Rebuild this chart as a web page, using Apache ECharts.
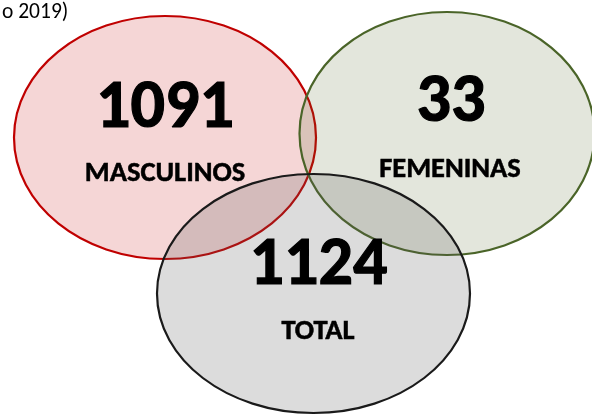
<!DOCTYPE html>
<html>
<head>
<meta charset="utf-8">
<script src="https://cdn.jsdelivr.net/npm/echarts@6/dist/echarts.min.js"></script>
<style>
  html, body { margin: 0; padding: 0; background: #ffffff; }
  #chart { width: 592px; height: 415px; }
</style>
</head>
<body>
<div id="chart"></div>
<script>
// ---- data ----
const categories = ['MASCULINOS', 'FEMENINAS', 'TOTAL'];
const values = [1091, 33, 1124];
const titleText = 'o 2019)';

// ---- layout (page-pixel space used by the hidden axes) ----
const layout = [
  { cx: 165,   cy: 137.5, rx: 151,   ry: 121.5, numDx: 0, numDy: -28, labDx: 0,   labDy: 36 },
  { cx: 447,   cy: 133.5, rx: 147.5, ry: 121.5, numDx: 4, numDy: -30, labDx: 3,   labDy: 36 },
  { cx: 313.5, cy: 293.5, rx: 156.5, ry: 119.5, numDx: 5, numDy: -27, labDx: 4.5, labDy: 38 }
];
const fills = ['rgba(192,0,0,0.16)', 'rgba(79,98,40,0.16)', 'rgba(91,91,91,0.21)'];
const strokes = ['#C00000', '#4A6428', '#1A1A1A'];
const FONT = 'Carlito, Calibri, Lato, sans-serif';

const chart = echarts.init(document.getElementById('chart'), null, { renderer: 'canvas' });

const seriesData = categories.map((c, i) => ({ name: c, value: [layout[i].cx, layout[i].cy, values[i]] }));

chart.setOption({
  animation: false,
  backgroundColor: '#ffffff',
  title: {
    text: titleText,
    left: -3, top: -3,
    textStyle: { fontFamily: FONT, fontWeight: 'normal', fontSize: 21.5, color: '#000' }
  },
  grid: { left: 0, right: 0, top: 0, bottom: 0 },
  xAxis: { type: 'value', min: 0, max: 592, show: false },
  yAxis: { type: 'value', min: 0, max: 415, inverse: true, show: false },
  series: [{
    type: 'custom',
    coordinateSystem: 'cartesian2d',
    data: seriesData,
    renderItem: function (params, api) {
      const i = params.dataIndex;
      const L = layout[i];
      const c = api.coord([api.value(0), api.value(1)]);
      const r = api.size([L.rx, L.ry]);
      const top = api.coord([L.cx + L.numDx, L.cy + L.numDy]);
      const lab = api.coord([L.cx + L.labDx, L.cy + L.labDy]);
      return {
        type: 'group',
        children: [
          {
            type: 'ellipse',
            shape: { cx: c[0], cy: c[1], rx: r[0], ry: r[1] },
            style: { fill: fills[i], stroke: strokes[i], lineWidth: 2.2 }
          },
          {
            type: 'text',
            z2: 10,
            style: {
              x: top[0], y: top[1],
              text: String(api.value(2)),
              align: 'center', verticalAlign: 'middle',
              font: 'bold 68px ' + FONT,
              fill: '#000',
              stroke: '#000', lineWidth: 1.2
            }
          },
          {
            type: 'text',
            z2: 10,
            style: {
              x: lab[0], y: lab[1],
              text: categories[i],
              align: 'center', verticalAlign: 'middle',
              font: 'bold 28.5px ' + FONT,
              fill: '#000',
              stroke: '#000', lineWidth: 0.5
            }
          }
        ]
      };
    }
  }]
});
</script>
</body>
</html>
